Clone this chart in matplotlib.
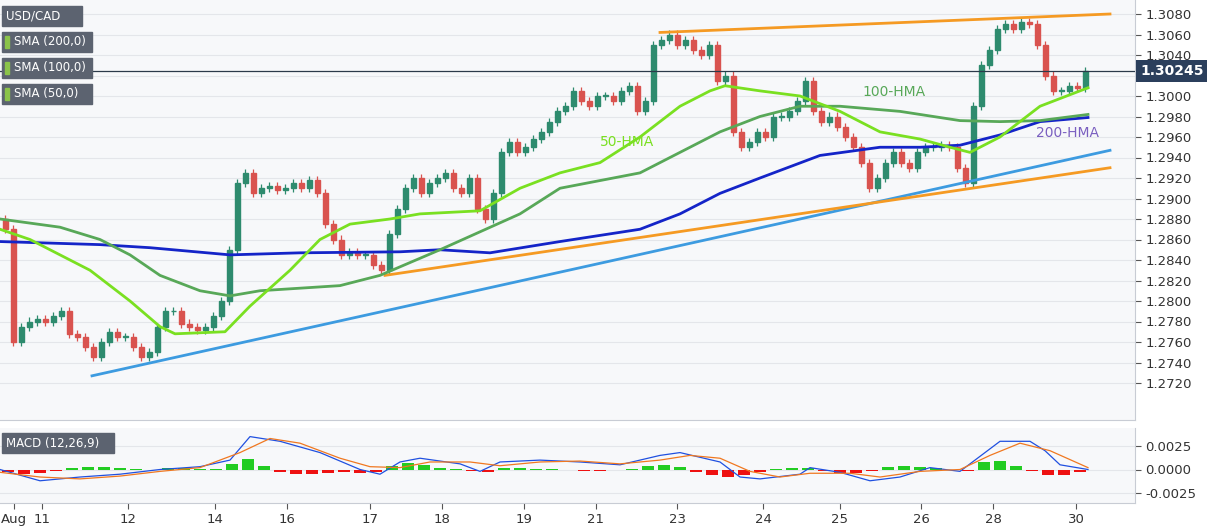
import matplotlib
matplotlib.use("Agg")
import matplotlib.pyplot as plt
import numpy as np
from matplotlib.patches import Rectangle

closes = [1.2870,1.2760,1.2775,1.2780,1.2782,1.2780,1.2785,1.2790,1.2768,1.2765,1.2755,1.2745,1.2760,1.2770,1.2765,1.2765,
1.2755,1.2745,1.2750,1.2775,1.2790,1.2790,1.2778,1.2775,1.2772,1.2775,1.2785,1.2800,1.2850,1.2915,1.2925,1.2905,
1.2910,1.2912,1.2908,1.2910,1.2915,1.2910,1.2918,1.2905,1.2875,1.2860,1.2845,1.2848,1.2845,1.2845,1.2835,1.2830,
1.2865,1.2890,1.2910,1.2920,1.2905,1.2915,1.2920,1.2925,1.2910,1.2905,1.2920,1.2890,1.2880,1.2905,1.2945,1.2955,
1.2945,1.2950,1.2958,1.2965,1.2975,1.2985,1.2990,1.3005,1.2995,1.2990,1.3000,1.3000,1.2995,1.3005,1.3010,1.2985,
1.2995,1.3050,1.3055,1.3060,1.3050,1.3055,1.3045,1.3040,1.3050,1.3015,1.3020,1.2965,1.2950,1.2955,1.2965,1.2960,
1.2980,1.2980,1.2985,1.2995,1.3015,1.2985,1.2975,1.2980,1.2970,1.2960,1.2950,1.2935,1.2910,1.2920,1.2935,1.2945,
1.2935,1.2930,1.2945,1.2950,1.2950,1.2952,1.2950,1.2930,1.2915,1.2990,1.3030,1.3045,1.3065,1.3070,1.3065,1.3072,
1.3070,1.3050,1.3020,1.3005,1.3005,1.3010,1.3008,1.30245]
first_open = 1.2880

hma200_x = [0,100,150,230,300,400,440,490,560,640,680,720,760,820,880,920,960,1000,1040,1088]
hma200_y = [1.2858,1.2855,1.2852,1.2845,1.2847,1.2848,1.2850,1.2847,1.2858,1.2870,1.2885,1.2905,1.2920,1.2942,1.2950,1.2950,1.2952,1.2962,1.2975,1.2979]
hma100_x = [0,60,100,130,160,200,230,260,340,380,440,520,560,640,680,720,760,800,840,900,960,1000,1040,1088]
hma100_y = [1.2880,1.2872,1.2860,1.2845,1.2825,1.2810,1.2805,1.2810,1.2815,1.2825,1.2850,1.2885,1.2910,1.2925,1.2945,1.2965,1.2980,1.2990,1.2990,1.2985,1.2976,1.2975,1.2976,1.2982]
hma50_x = [0,30,90,130,160,175,225,250,290,320,350,390,420,480,520,560,600,640,680,710,725,760,800,840,880,920,950,970,1000,1040,1088]
hma50_y = [1.2870,1.2860,1.2830,1.2800,1.2775,1.2768,1.2770,1.2795,1.2830,1.2860,1.2875,1.2880,1.2885,1.2888,1.2910,1.2925,1.2935,1.2960,1.2990,1.3005,1.3010,1.3005,1.3000,1.2985,1.2965,1.2958,1.2950,1.2945,1.2960,1.2990,1.3008]

trend_blue = ([92,1110],[1.2727,1.2947])
trend_orange_low = ([385,1110],[1.2825,1.2930])
trend_orange_up = ([660,1110],[1.3062,1.3080])

macd_x = [0,40,80,120,160,200,230,250,280,320,360,380,400,420,460,480,500,540,580,620,660,680,720,740,760,800,810,840,870,900,930,960,975,1000,1030,1045,1060,1088]
macd_y = [0.0000,-0.0012,-0.0008,-0.0005,0.0000,0.0003,0.0010,0.0035,0.0030,0.0018,0.0000,-0.0005,0.0008,0.0012,0.0006,-0.0002,0.0008,0.0010,0.0008,0.0005,0.0015,0.0018,0.0008,-0.0008,-0.0010,-0.0005,0.0002,-0.0003,-0.0012,-0.0008,0.0002,-0.0002,0.0010,0.0030,0.0030,0.0020,0.0005,0.0000]
sig_x = [0,40,80,120,160,200,240,270,300,340,370,400,430,470,500,540,580,620,660,690,720,750,780,810,850,880,920,960,990,1020,1050,1088]
sig_y = [-0.0003,-0.0008,-0.0010,-0.0007,-0.0002,0.0002,0.0018,0.0033,0.0028,0.0012,0.0003,0.0002,0.0008,0.0008,0.0004,0.0008,0.0009,0.0006,0.0010,0.0015,0.0012,-0.0002,-0.0008,-0.0004,-0.0004,-0.0008,-0.0002,0.0000,0.0015,0.0028,0.0020,0.0002]
hist = [-0.0003,-0.0005,-0.0004,-0.0002,0.0002,0.0003,0.0003,0.0002,0.0001,-0.0001,0.0002,0.0002,0.0001,0.0001,0.0006,0.0011,
0.0004,-0.0003,-0.0005,-0.0005,-0.0004,-0.0003,-0.0004,-0.0003,0.0004,0.0007,0.0005,0.0002,0.0001,-0.0002,-0.0003,0.0002,
0.0002,0.0001,0.0001,-0.0001,-0.0002,-0.0002,-0.0001,0.0001,0.0004,0.0005,0.0003,-0.0003,-0.0006,-0.0008,-0.0006,-0.0003,
0.0001,0.0002,0.0002,-0.0002,-0.0004,-0.0004,-0.0002,0.0003,0.0004,0.0003,0.0002,-0.0001,-0.0002,0.0008,0.0009,0.0004,
-0.0002,-0.0006,-0.0006,-0.0003]

xtick_pos = [14,42,128,215,287,370,442,524,596,677,763,840,921,993,1076]
xtick_lab = ["Aug","11","12","14","16","17","18","19","21","23","24","25","26","28","30"]
price_ticks = [1.2720,1.2740,1.2760,1.2780,1.2800,1.2820,1.2840,1.2860,1.2880,1.2900,1.2920,1.2940,1.2960,1.2980,1.3000,1.3020,1.3040,1.3060,1.3080]
last_price = 1.30245

W, H = 1207, 526
fig = plt.figure(figsize=(W/100, H/100), dpi=100)
fig.patch.set_facecolor("white")
XR = 1135
ax = fig.add_axes([0, 1-420/H, XR/W, 420/H])
ax2 = fig.add_axes([0, 1-503/H, XR/W, 75/H])
bg = "#f7f8fa"
for a in (ax, ax2):
    a.set_facecolor(bg)
    a.set_xlim(0, XR)
    for s in ["top","left"]:
        a.spines[s].set_visible(False)
    a.spines["right"].set_color("#c8ccd4")
    a.spines["bottom"].set_color("#c8ccd4")
    a.yaxis.tick_right()
    a.tick_params(axis="y", labelsize=9.5, colors="#555555", length=4, labelcolor="#333333")

ax.set_ylim(1.2720-37/10250, 1.3080+14/10250)
ax.set_yticks(price_ticks)
ax.set_yticklabels(["" if abs(v-1.3020) < 1e-6 else f"{v:.4f}" for v in price_ticks])
ax.grid(axis="y", color="#e4e6ea", lw=0.8)
ax.set_xticks([])
ax.set_axisbelow(True)

opens = [first_open] + closes[:-1]
wick = 0.0004
for i, (o, c) in enumerate(zip(opens, closes)):
    x = 5 + 8*i
    col = "#2e8b6e" if c >= o else "#d9534f"
    ax.vlines(x, min(o, c)-wick, max(o, c)+wick, color=col, lw=0.9, zorder=2)
    h = max(abs(c-o), 0.00005)
    ax.add_patch(Rectangle((x-2.5, min(o, c)), 5, h, color=col, zorder=3))

ax.plot(*trend_blue, color="#3d9be0", lw=2, zorder=4)
ax.plot(*trend_orange_low, color="#f59a23", lw=2, zorder=4)
ax.plot(*trend_orange_up, color="#f59a23", lw=2, zorder=4)
ax.plot(hma200_x, hma200_y, color="#1424c8", lw=2, zorder=5)
ax.plot(hma100_x, hma100_y, color="#58a858", lw=2, zorder=5)
ax.plot(hma50_x, hma50_y, color="#7ae021", lw=2, zorder=5)
ax.axhline(last_price, color="#2b3a4a", lw=0.9, zorder=6)

ax.text(600, 1.2951, "50-HMA", color="#7ae021", fontsize=10)
ax.text(862, 1.3000, "100-HMA", color="#58a858", fontsize=10)
ax.text(1036, 1.2960, "200-HMA", color="#7a5fc0", fontsize=10)

ax.text(1140, last_price, f"{last_price:.5f}", transform=ax.transData, fontsize=10, fontweight="bold",
        color="white", va="center", ha="left", clip_on=False, zorder=20,
        bbox=dict(boxstyle="square,pad=0.3", fc="#2b3f5c", ec="none"))

labels = ["USD/CAD", "SMA (200,0)", "SMA (100,0)", "SMA (50,0)"]
for k, t in enumerate(labels):
    y = 6 + 26*k
    fig.patches.append(Rectangle((2/W, 1-(y+20)/H), (90 if k else 80)/W, 20/H, transform=fig.transFigure,
                                 color="#5c6370", zorder=9))
    fig.text((14 if k else 6)/W, 1-(y+10)/H, t, color="white", fontsize=8.5, va="center", ha="left", zorder=11)
    if k:
        fig.patches.append(Rectangle((5/W, 1-(y+16)/H), 4/W, 12/H, transform=fig.transFigure,
                                     color="#8bc34a", zorder=10))

# MACD
ax2.set_ylim(-0.0025-10/9400, 0.0025+18/9400)
ax2.set_yticks([-0.0025, 0.0, 0.0025])
ax2.set_yticklabels(["-0.0025", "0.0000", "0.0025"])
ax2.grid(axis="y", color="#e4e6ea", lw=0.8)
ax2.set_axisbelow(True)
hx = [8 + 16*k for k in range(len(hist))]
ax2.bar(hx, hist, width=12, color=["#22cc22" if v >= 0 else "#ee1111" for v in hist], zorder=2)
ax2.plot(macd_x, macd_y, color="#2050e0", lw=0.9, zorder=3)
ax2.plot(sig_x, sig_y, color="#f07820", lw=0.9, zorder=3)
ax2.set_xticks(xtick_pos)
ax2.set_xticklabels(xtick_lab)
ax2.tick_params(axis="x", labelsize=9.5, colors="#555555", labelcolor="#333333", length=4)
fig.patches.append(Rectangle((2/W, 1-453/H), 112/W, 20/H, transform=fig.transFigure, color="#5c6370", zorder=9))
fig.text(6/W, 1-443/H, "MACD (12,26,9)", color="white", fontsize=8.5, va="center", zorder=11)
fig.savefig("out.png", dpi=100)
